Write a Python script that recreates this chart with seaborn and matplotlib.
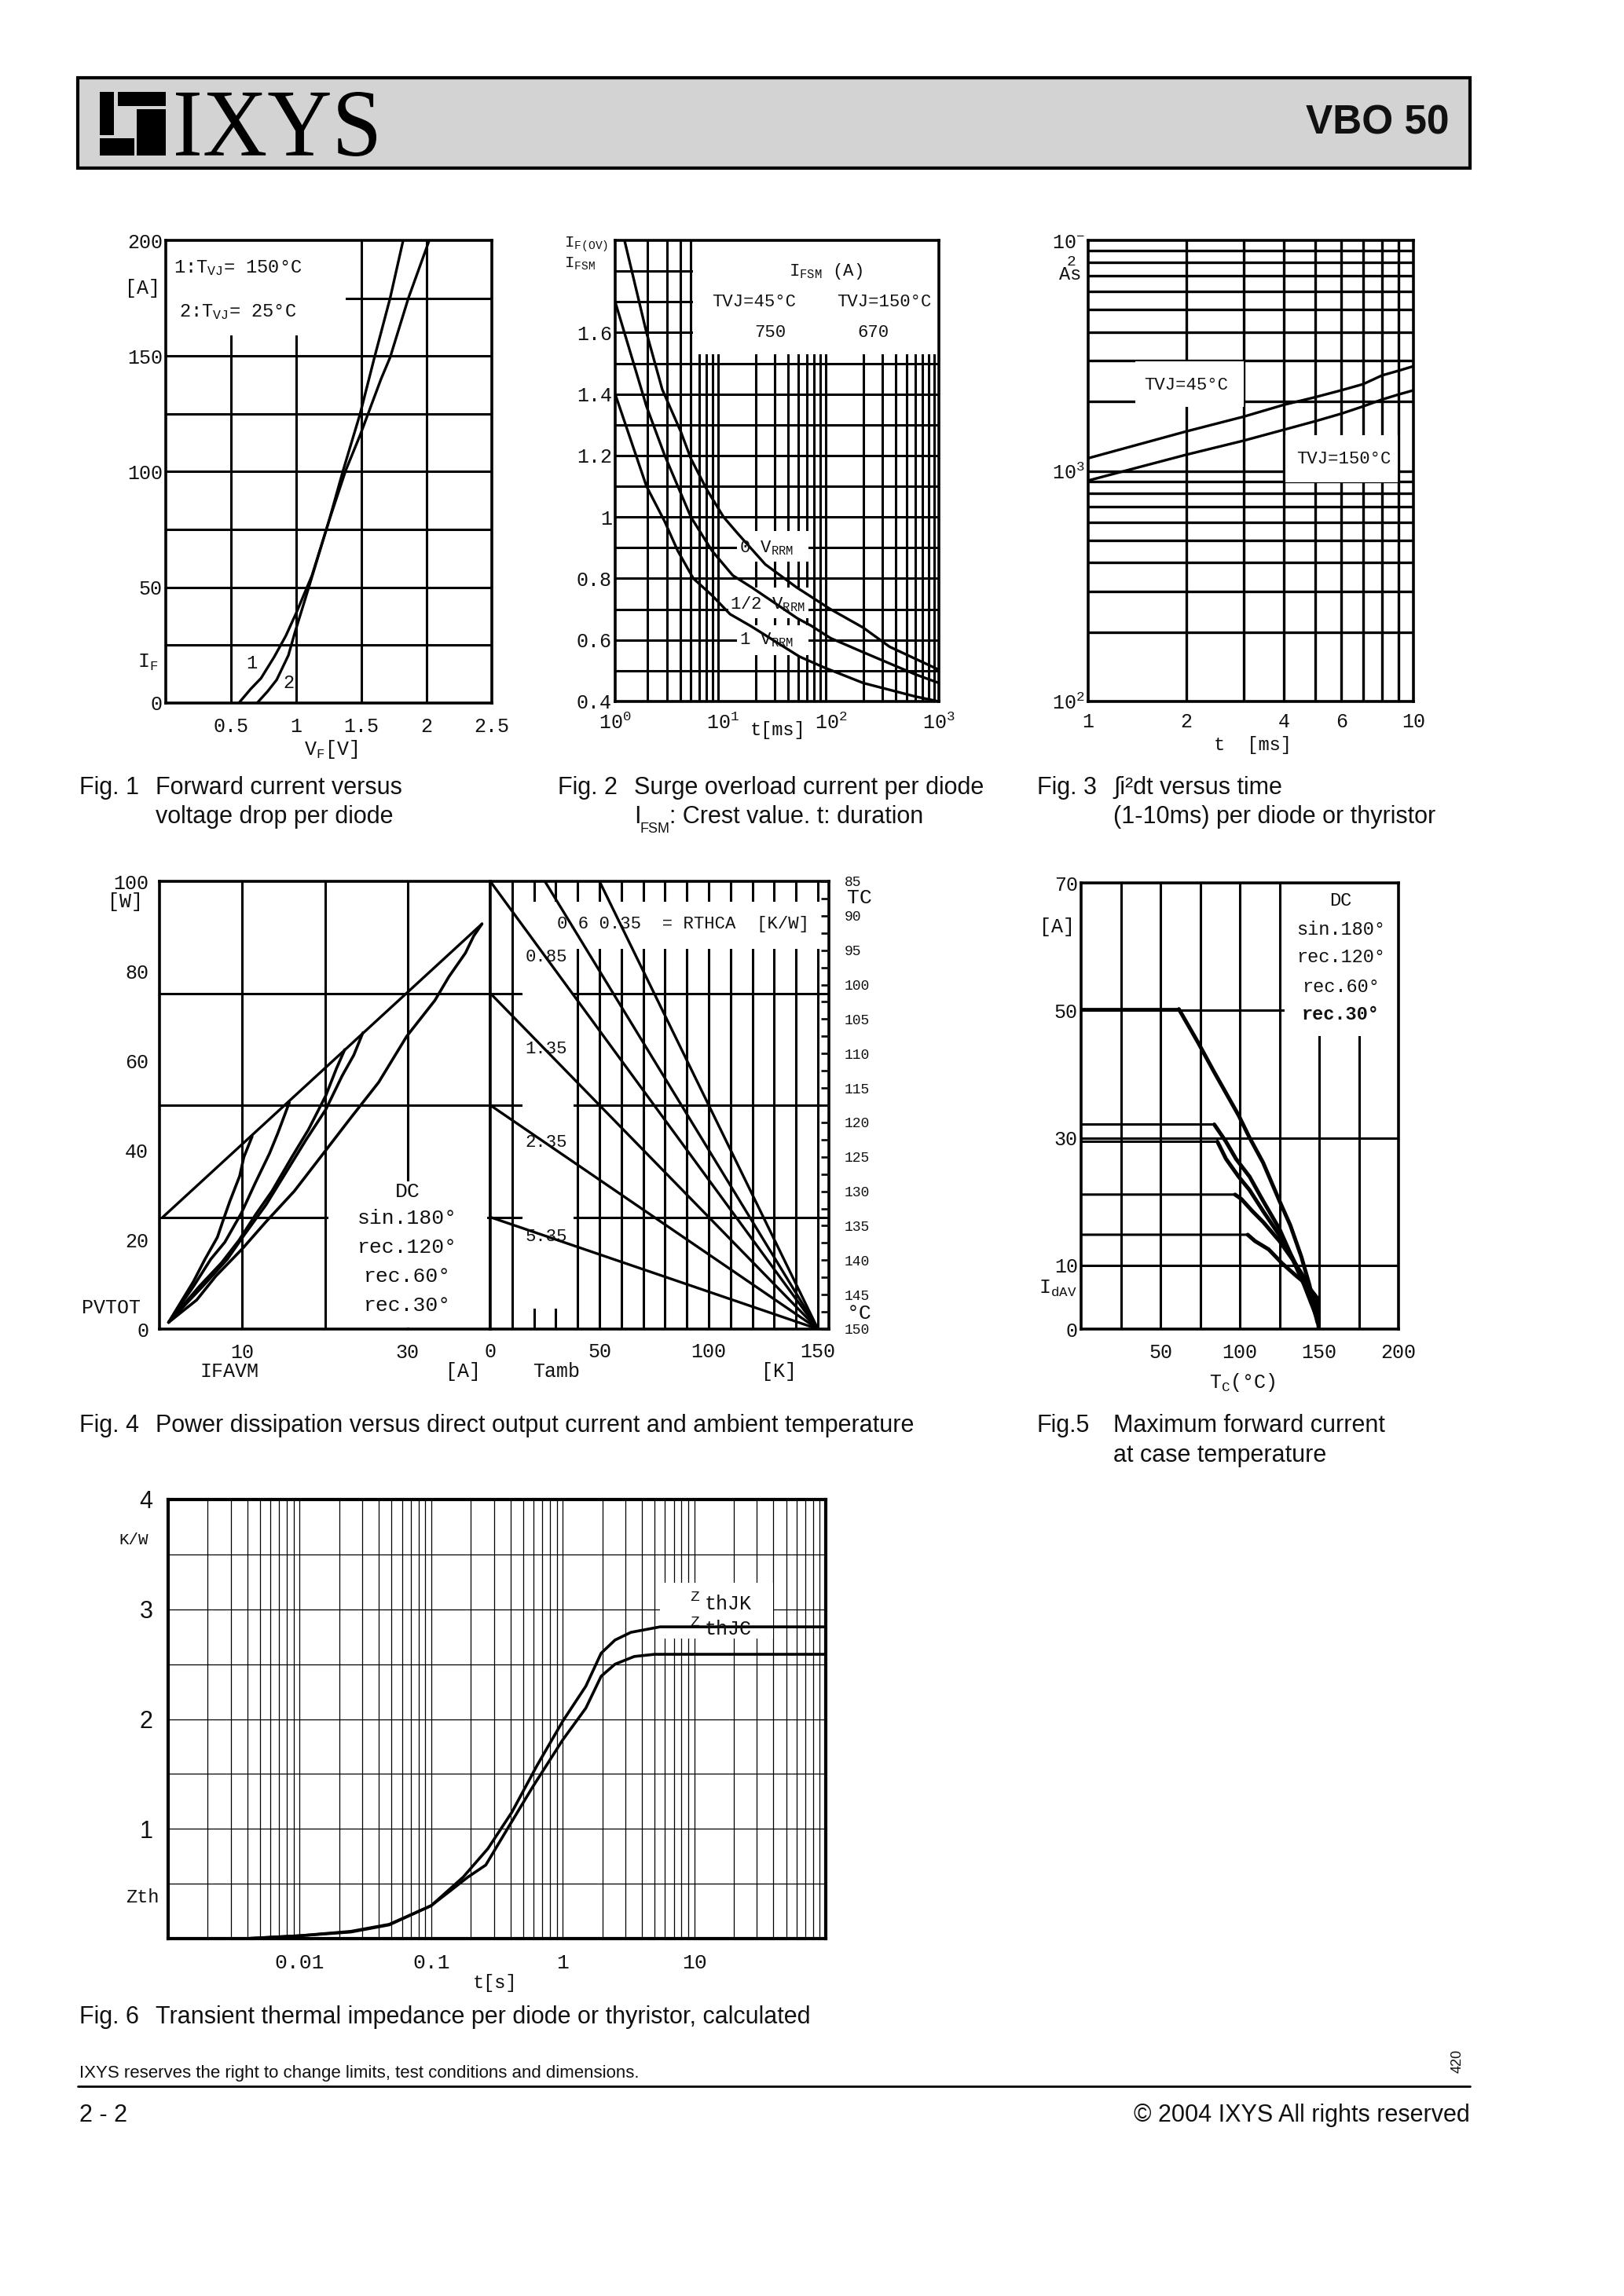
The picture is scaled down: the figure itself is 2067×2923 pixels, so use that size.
import matplotlib
matplotlib.use("Agg")
import matplotlib.pyplot as plt
import seaborn as sns
import numpy as np
from matplotlib.patches import Rectangle, PathPatch
from matplotlib.textpath import TextPath
from matplotlib.font_manager import FontProperties
from matplotlib.transforms import Affine2D
from matplotlib.lines import Line2D
from matplotlib.ticker import FixedLocator

# ---------------- data ----------------
# Fig 1: forward current vs voltage drop
vf_150 = [0.56, 0.65, 0.73, 0.83, 0.92, 1.00, 1.12, 1.25, 1.36, 1.49, 1.60, 1.72, 1.82]
if_150 = [0, 6, 10.7, 19.8, 29, 38.9, 55, 78.5, 100.6, 125, 149.4, 175, 200]
vf_25 = [0.70, 0.78, 0.85, 0.94, 0.99, 1.09, 1.25, 1.38, 1.49, 1.65, 1.72, 1.86, 2.02]
if_25 = [0, 5, 10, 20.6, 30.5, 48.8, 78.5, 100.6, 115.8, 140, 149.4, 175, 200]

# Fig 2: surge overload current ratio vs time
t_0v = [1.22, 1.95, 2.73, 4.03, 5.03, 7.05, 10.1, 13.7, 24.6, 48, 99, 199, 349, 1000]
r_0v = [1.90, 1.60, 1.415, 1.28, 1.19, 1.09, 1.0, 0.946, 0.846, 0.771, 0.70, 0.64, 0.578, 0.503]
t_half = [1.0, 1.95, 2.88, 5.03, 7.9, 12.3, 18.6, 49, 65, 99, 199, 606, 1000]
r_half = [1.70, 1.36, 1.20, 1.00, 0.89, 0.81, 0.77, 0.67, 0.647, 0.606, 0.56, 0.488, 0.46]
t_1v = [1.0, 1.95, 2.88, 3.8, 5.3, 7.9, 11.6, 18.1, 51, 87, 199, 606, 1000]
r_1v = [1.40, 1.10, 0.985, 0.89, 0.80, 0.745, 0.684, 0.645, 0.546, 0.51, 0.46, 0.416, 0.40]
ifsm_45, ifsm_150 = "750", "670"

# Fig 3: i2t vs time
t_i2t = [1, 2, 3, 4, 5, 6, 7, 8, 9, 10]
i2t_45 = [1135, 1483, 1718, 1936, 2090, 2237, 2378, 2595, 2720, 2845]
i2t_150 = [908, 1175, 1352, 1509, 1644, 1771, 1905, 2039, 2145, 2237]

# Fig 4 (left): power dissipation vs average current
pv_modes = ["DC", "sin.180°", "rec.120°", "rec.60°", "rec.30°"]
i_dc = [1.1, 4.5, 6.8, 10, 12.9, 16.3, 20.1, 23.1, 26.5, 29.9, 33.3, 35.0, 37.0, 38.0, 39.0]
p_dc = [1.5, 6.5, 11.8, 17.9, 24, 30.8, 39.9, 47.1, 55.1, 65.4, 73.4, 78.7, 84, 87.8, 90.5]
i_sin = [1.1, 5.2, 8.2, 10.2, 12.9, 15.3, 17.7, 20.1, 22.1, 23.5, 24.6]
p_sin = [1.5, 9.5, 15.6, 20.9, 27.8, 35, 42.2, 49, 56.6, 61.2, 66.2]
i_r120 = [1.1, 4.8, 7.5, 9.6, 11.6, 13.6, 16.0, 18.0, 20.1, 21.4, 22.4]
p_r120 = [1.5, 9.5, 14.8, 19.8, 25.5, 30.8, 38.4, 44.5, 52.1, 58.2, 62.4]
i_r60 = [1.1, 4.1, 6.2, 7.9, 9.9, 11.6, 13.3, 14.3, 15.7]
p_r60 = [1.5, 9.5, 15.6, 19.4, 25.9, 32.7, 39.2, 43.7, 50.6]
i_r30 = [1.1, 4.1, 5.5, 7.0, 7.7, 8.5, 9.7, 10.2, 11.2]
p_r30 = [1.5, 10.6, 15.6, 20.5, 24.3, 28.5, 34.2, 38.4, 43]
i_env = [0.4, 39.0]
p_env = [25.0, 90.5]

# Fig 4 (right): ambient temperature lines per Rthca
rth_values = ["0.35", "0.6", "0.85", "1.35", "2.35", "5.35"]
rth_t_start = [50, 25, 0, 0, 0, 0]
rth_p_start = [100, 100, 100, 75, 50, 25]
rth_t_end = 150
tc_ticks = [85, 90, 95, 100, 105, 110, 115, 120, 125, 130, 135, 140, 145, 150]

# Fig 5: max forward current vs case temperature
tc_dc = [0, 61.6, 73.6, 83.9, 99.3, 106.2, 114.7, 125, 131.8, 138.7, 143.8, 149, 149.8]
id_dc = [50.2, 50.2, 45, 40.3, 33.5, 30, 26.1, 20.1, 16.3, 11.4, 7, 1.5, 0]
tc_sin = [0, 83.9, 91.3, 97.6, 106.2, 114.7, 125, 131.8, 140.4, 145.5, 149]
id_sin = [32.1, 32.1, 29.4, 26.7, 23.9, 20.1, 15.7, 11.9, 7.5, 4.3, 1]
tc_r120 = [0, 85.9, 91.3, 99.3, 106.2, 114.7, 125, 133.6, 140.4, 149]
id_r120 = [29.4, 29.4, 26.7, 23.9, 21.8, 18.5, 14.7, 10.8, 7, 1.5]
tc_r60 = [0, 97, 101, 107.9, 114.7, 125, 133.6, 142.1, 149, 149.8]
id_r60 = [21.1, 21.1, 20.4, 18.5, 16.8, 13.8, 10.8, 7.5, 3.2, 1]
tc_r30 = [0, 105, 109.6, 118.2, 126.7, 135.3, 142.1, 149, 149.8]
id_r30 = [14.8, 14.8, 13.8, 12.5, 10.3, 8.4, 7, 4.8, 1.5]

# Fig 6: transient thermal impedance
t_jk = [0.0039, 0.01, 0.0245, 0.048, 0.1, 0.175, 0.27, 0.41, 0.64, 1.0, 1.5, 1.96, 2.5, 3.3, 5.5, 100]
z_jk = [0, 0.026, 0.066, 0.13, 0.30, 0.56, 0.82, 1.15, 1.58, 1.98, 2.30, 2.60, 2.72, 2.79, 2.84, 2.84]
t_jc = [0.0039, 0.01, 0.0245, 0.048, 0.1, 0.19, 0.26, 0.38, 0.59, 1.0, 1.5, 1.96, 2.5, 3.5, 5, 100]
z_jc = [0, 0.026, 0.06, 0.125, 0.30, 0.56, 0.67, 1.0, 1.38, 1.81, 2.1, 2.39, 2.50, 2.57, 2.59, 2.59]

# ---------------- style ----------------
sns.set_theme(style="white")
MONO = ["Liberation Mono", "DejaVu Sans Mono"]
SANS = ["Liberation Sans", "DejaVu Sans"]
plt.rcParams["font.family"] = MONO
plt.rcParams["mathtext.fontset"] = "custom"
plt.rcParams["mathtext.rm"] = "Liberation Mono"
plt.rcParams["mathtext.it"] = "Liberation Mono"
plt.rcParams["mathtext.bf"] = "Liberation Mono:bold"
plt.rcParams["mathtext.default"] = "rm"
INK = "#111111"

W, H = 2067, 2923
fig = plt.figure(figsize=(W / 100, H / 100), dpi=100)
fig.patch.set_facecolor("white")


def add_ax(x0, y0, x1, y1):
    return fig.add_axes([x0 / W, 1 - y1 / H, (x1 - x0) / W, (y1 - y0) / H])


def ftext(x, y, s, size=18, ha="left", va="center", family=None, **kw):
    fig.text(x / W, 1 - y / H, s, fontsize=size, ha=ha, va=va,
             family=family or MONO, color=INK, **kw)


def frame(ax, lw=2.6, labelsize=18):
    ax.set_facecolor("white")
    ax.grid(False)
    for sp in ax.spines.values():
        sp.set_visible(True)
        sp.set_color("black")
        sp.set_linewidth(lw)
        sp.set_zorder(5)
    ax.tick_params(length=0, labelsize=labelsize, colors=INK)
    ax.set_xlabel("")
    ax.set_ylabel("")


def grid(ax, xs=(), ys=(), lw=2.2):
    for v in xs:
        ax.axvline(v, color="black", lw=lw, zorder=1)
    for v in ys:
        ax.axhline(v, color="black", lw=lw, zorder=1)


def blank(ax, x0, y0, x1, y1):
    ax.add_patch(Rectangle((x0, y0), x1 - x0, y1 - y0, facecolor="white",
                           edgecolor="none", zorder=1.5))


def curve(ax, x, y, lw=2.4):
    sns.lineplot(x=x, y=y, ax=ax, color="black", linewidth=lw, sort=False,
                 estimator=None, legend=False, zorder=3)


# ---------------- header ----------------
axh = add_ax(99, 99, 1871, 214)
axh.set_xlim(99, 1871)
axh.set_ylim(214, 99)
axh.axis("off")
axh.add_patch(Rectangle((99, 99), 1772, 115, facecolor="#d3d3d3",
                        edgecolor="black", lw=3, clip_on=False))
ix0, iy0, iw, ih = 127, 117, 84, 81
for fx0, fy0, fx1, fy1 in [(0, 0, 0.22, 0.68), (0.27, 0, 1.0, 0.22),
                           (0.56, 0.27, 1.0, 1.0), (0, 0.73, 0.52, 1.0)]:
    axh.add_patch(Rectangle((ix0 + fx0 * iw, iy0 + fy0 * ih), (fx1 - fx0) * iw,
                            (fy1 - fy0) * ih, facecolor="black", edgecolor="none"))
tp = TextPath((0, 0), "IXYS", size=100, prop=FontProperties(family="Liberation Serif"))
bb = tp.get_extents()
tr = Affine2D().translate(-bb.x0, -bb.y0).scale(255 / bb.width, -82 / bb.height).translate(224, 199)
axh.add_patch(PathPatch(tr.transform_path(tp), facecolor="black", edgecolor="none"))
ftext(1845, 157, "VBO 50", size=37, ha="right", family=SANS, weight="bold")

# ---------------- Fig 1 ----------------
ax1 = add_ax(211, 306, 626, 895)
frame(ax1)
grid(ax1, xs=[0.5, 1, 1.5, 2], ys=[25, 50, 75, 100, 125, 150, 175])
blank(ax1, 0.0, 159, 1.38, 200)
curve(ax1, vf_150, if_150)
curve(ax1, vf_25, if_25)
ax1.set_xlim(0, 2.5)
ax1.set_ylim(0, 200)
ax1.set_xticks([0.5, 1, 1.5, 2, 2.5])
ax1.set_xticklabels(["0.5", "1", "1.5", "2", "2.5"])
ax1.set_yticks([0, 50, 100, 150, 200])
ax1.tick_params(axis="x", pad=13)
ax1.tick_params(axis="y", pad=3)
ax1.text(0.06, 188, "1:T$_{VJ}$= 150°C", fontsize=17, va="center", color=INK, zorder=4)
ax1.text(0.10, 169, "2:T$_{VJ}$= 25°C", fontsize=17, va="center", color=INK, zorder=4)
ax1.text(0.66, 17, "1", fontsize=17, ha="center", va="center", color=INK)
ax1.text(0.94, 8.5, "2", fontsize=17, ha="center", va="center", color=INK)
ftext(181, 367, "[A]", ha="center")
ftext(188, 843, "I$_F$", ha="center")
ftext(421, 954, "V$_F$[V]", ha="center")

# ---------------- Fig 2 ----------------
ax2 = add_ax(783, 306, 1195, 893)
frame(ax2)
ax2.set_xscale("log")
grid(ax2, xs=[k * 10 ** d for d in range(3) for k in range(2, 10)],
     ys=[0.5, 0.6, 0.7, 0.8, 0.9, 1.0, 1.1, 1.2, 1.3, 1.4, 1.5, 1.6, 1.7, 1.8])
blank(ax2, 5.3, 1.53, 1000, 1.9)
blank(ax2, 13.5, 0.855, 62, 0.955)
blank(ax2, 11.2, 0.67, 62, 0.77)
blank(ax2, 13.5, 0.55, 62, 0.648)
curve(ax2, t_0v, r_0v)
curve(ax2, t_half, r_half)
curve(ax2, t_1v, r_1v)
ax2.set_xlim(1, 1000)
ax2.set_ylim(0.4, 1.9)
ax2.set_xticks([1, 10, 100, 1000])
ax2.set_xticklabels(["$10^{0}$", "$10^{1}$", "$10^{2}$", "$10^{3}$"])
ax2.minorticks_off()
ax2.set_yticks([0.4, 0.6, 0.8, 1.0, 1.2, 1.4, 1.6])
ax2.set_yticklabels(["0.4", "0.6", "0.8", "1", "1.2", "1.4", "1.6"])
ax2.tick_params(axis="x", pad=10)
ax2.tick_params(axis="y", pad=3)
for x, y, s in [(90, 1.80, "I$_{FSM}$ (A)"), (19.2, 1.70, "TVJ=45°C"), (312, 1.70, "TVJ=150°C"),
                (27.3, 1.60, ifsm_45), (245, 1.60, ifsm_150)]:
    ax2.text(x, y, s, fontsize=16, ha="center", va="center", color=INK, zorder=4)
for x, y, s in [(14.1, 0.90, "0 V$_{RRM}$"), (11.6, 0.717, "1/2 V$_{RRM}$"), (14.1, 0.60, "1 V$_{RRM}$")]:
    ax2.text(x, y, s, fontsize=16, ha="left", va="center", color=INK, zorder=4)
ftext(718, 311, "I$_{F(OV)}$", size=15)
ftext(718, 336, "I$_{FSM}$", size=15)
ftext(990, 930, "t[ms]", ha="center", size=17)

# ---------------- Fig 3 ----------------
ax3 = add_ax(1385, 306, 1799, 893)
frame(ax3)
ax3.set_xscale("log")
ax3.set_yscale("log")
grid(ax3, xs=range(2, 10),
     ys=[k * 100 for k in range(2, 10)] + [1000] + [k * 1000 for k in range(2, 10)], lw=2.4)
blank(ax3, 1.4, 1900, 3.0, 2990)
blank(ax3, 4.03, 893, 8.95, 1432)
curve(ax3, t_i2t, i2t_45)
curve(ax3, t_i2t, i2t_150)
ax3.set_xlim(1, 10)
ax3.set_ylim(100, 10000)
ax3.set_xticks([1, 2, 4, 6, 10])
ax3.set_xticklabels(["1", "2", "4", "6", "10"])
ax3.set_yticks([100, 1000, 10000])
ax3.set_yticklabels(["$10^{2}$", "$10^{3}$", "$10^{-}$"])
ax3.minorticks_off()
ax3.tick_params(axis="x", pad=10)
ax3.tick_params(axis="y", pad=3)
ax3.text(2.0, 2355, "TVJ=45°C", fontsize=16, ha="center", va="center", color=INK, zorder=4)
ax3.text(6.1, 1128, "TVJ=150°C", fontsize=16, ha="center", va="center", color=INK, zorder=4)
ftext(1348, 349, "As", size=17)
ftext(1358, 334, "2", size=14)
ftext(1594, 949, "t  [ms]", ha="center", size=17)

# ---------------- Fig 4 ----------------
ax4l = add_ax(203, 1122, 624, 1692)
ax4r = add_ax(624, 1122, 1055, 1692)
frame(ax4l)
frame(ax4r)
grid(ax4l, xs=[10, 20, 30], ys=[25, 50, 75])
grid(ax4r, xs=range(10, 151, 10), ys=[25, 50, 75])
blank(ax4l, 20.4, 0.4, 39.6, 33)
blank(ax4r, 14.8, 4.6, 38.1, 95.4)
blank(ax4r, 38.1, 85, 152, 95.4)
curve(ax4l, i_env, p_env)
for xs, ys in [(i_dc, p_dc), (i_sin, p_sin), (i_r120, p_r120), (i_r60, p_r60), (i_r30, p_r30)]:
    curve(ax4l, xs, ys, lw=2.6)
for t0, p0 in zip(rth_t_start, rth_p_start):
    curve(ax4r, [t0, rth_t_end], [p0, 0])
ax4l.set_xlim(0, 40)
ax4l.set_ylim(0, 100)
ax4r.set_xlim(0, 155)
ax4r.set_ylim(0, 100)
ax4l.set_xticks([10, 30])
ax4l.set_yticks([0, 20, 40, 60, 80, 100])
ax4l.yaxis.set_minor_locator(FixedLocator([v for v in range(4, 100, 4) if v % 20]))
ax4l.tick_params(axis="y", which="both", direction="in", length=7, width=2, pad=10)
ax4l.tick_params(axis="x", pad=13)
ax4r.set_xticks([0, 50, 100, 150])
ax4r.set_yticks([])
ax4r.tick_params(axis="x", pad=12)
tw = ax4r.twinx()
tw.set_ylim(150, 85)
tw.set_yticks(tc_ticks)
tw.yaxis.set_minor_locator(FixedLocator([v + 2.5 for v in tc_ticks[:-1]]))
tw.tick_params(axis="y", which="both", direction="in", length=7, width=2,
               labelsize=13, pad=14, colors=INK)
for sp in tw.spines.values():
    sp.set_visible(False)
for y, s in zip([30.7, 24.8, 18.3, 11.8, 5.2], pv_modes):
    ax4l.text(30, y, s, fontsize=19, ha="center", va="center", color=INK, zorder=4)
for y, s in zip([83, 62.5, 41.6, 20.6], rth_values[2:]):
    ax4r.text(25.6, y, s, fontsize=16, ha="center", va="center", color=INK, zorder=4)
ax4r.text(30.7, 90.5, f"{rth_values[1]} {rth_values[0]}  = RTHCA  [K/W]", fontsize=16,
          ha="left", va="center", color=INK, zorder=4)
ftext(160, 1148, "[W]", ha="center")
ftext(141, 1665, "PVTOT", ha="center")
ftext(292, 1746, "IFAVM", ha="center")
ftext(589, 1746, "[A]", ha="center")
ftext(708, 1746, "Tamb", ha="center")
ftext(992, 1746, "[K]", ha="center")
ftext(1094, 1143, "TC", ha="center", size=19)
ftext(1094, 1672, "°C", ha="center", size=19)

# ---------------- Fig 5 ----------------
ax5 = add_ax(1376, 1124, 1780, 1692)
frame(ax5)
grid(ax5, xs=[25, 50, 75, 100, 125, 150, 175], ys=[10, 30, 50])
blank(ax5, 128.4, 46, 200, 70)
for xs, ys in [(tc_dc, id_dc), (tc_sin, id_sin), (tc_r120, id_r120), (tc_r60, id_r60), (tc_r30, id_r30)]:
    curve(ax5, xs, ys, lw=2.2)
    curve(ax5, xs[1:], ys[1:], lw=3.6)
ax5.set_xlim(0, 200)
ax5.set_ylim(0, 70)
ax5.set_xticks([50, 100, 150, 200])
ax5.set_yticks([0, 10, 30, 50, 70])
ax5.tick_params(axis="x", pad=13)
ax5.tick_params(axis="y", pad=3)
for y, s in zip([67.2, 62.7, 58.4, 53.7, 49.3], pv_modes):
    ax5.text(163.5, y, s, fontsize=17, ha="center", va="center", color=INK, zorder=4,
             weight="bold" if s == "rec.30°" else "normal")
ftext(1346, 1180, "[A]", ha="center")
ftext(1346, 1640, "I$_{dAV}$", ha="center")
ftext(1581, 1760, "T$_C$(°C)", ha="center")

# ---------------- Fig 6 ----------------
ax6 = add_ax(214, 1909, 1051, 2468)
frame(ax6, lw=3)
ax6.set_xscale("log")
grid(ax6, xs=[k * 10.0 ** d for d in range(-3, 2) for k in range(1, 10) if not (d == -3 and k == 1)],
     ys=[0.5, 1, 1.5, 2, 2.5, 3, 3.5], lw=0.9)
blank(ax6, 5.5, 2.73, 40, 3.24)
curve(ax6, t_jk, z_jk, lw=2.6)
curve(ax6, t_jc, z_jc, lw=2.6)
ax6.set_xlim(0.001, 100)
ax6.set_ylim(0, 4)
ax6.set_xticks([0.01, 0.1, 1, 10])
ax6.set_xticklabels(["0.01", "0.1", "1", "10"])
ax6.minorticks_off()
ax6.set_yticks([1, 2, 3, 4])
ax6.set_yticklabels(["1", "2", "3", "4"])
ax6.tick_params(axis="x", labelsize=19, pad=14)
ax6.tick_params(axis="y", labelsize=22, pad=14)
for lbl in ax6.get_yticklabels():
    lbl.set_fontfamily(SANS)
for y, s in [(3.07, "thJK"), (2.84, "thJC")]:
    ax6.text(9.3, y + 0.04, "Z", fontsize=14, ha="left", va="center", color=INK, zorder=4)
    ax6.text(12.0, y - 0.02, s, fontsize=18, ha="left", va="center", color=INK, zorder=4)
ftext(170, 1961, "K/W", ha="center", size=15)
ftext(181, 2416, "Zth", ha="center", size=17)
ftext(630, 2524, "t[s]", ha="center", size=17)

# ---------------- captions and footer ----------------
cap = dict(size=22, family=SANS)
ftext(101, 1003, "Fig. 1", **cap)
ftext(198, 1003, "Forward current versus", **cap)
ftext(198, 1040, "voltage drop per diode", **cap)
ftext(710, 1003, "Fig. 2", **cap)
ftext(807, 1003, "Surge overload current per diode", **cap)
ftext(807, 1040, "I", **cap)
ftext(815, 1055, "FSM", size=13, family=SANS)
ftext(852, 1040, ": Crest value. t: duration", **cap)
ftext(1320, 1003, "Fig. 3", **cap)
ftext(1417, 1003, "∫i²dt versus time", **cap)
ftext(1417, 1040, "(1-10ms) per diode or thyristor", **cap)
ftext(101, 1815, "Fig. 4", **cap)
ftext(198, 1815, "Power dissipation versus direct output current and ambient temperature", **cap)
ftext(1320, 1815, "Fig.5", **cap)
ftext(1417, 1815, "Maximum forward current", **cap)
ftext(1417, 1853, "at case temperature", **cap)
ftext(101, 2568, "Fig. 6", **cap)
ftext(198, 2568, "Transient thermal impedance per diode or thyristor, calculated", **cap)
ftext(101, 2639, "IXYS reserves the right to change limits, test conditions and dimensions.",
      size=16, family=SANS)
ftext(1855, 2624, "420", size=13, family=SANS, ha="center", rotation=90)
fig.add_artist(Line2D([99 / W, 1871 / W], [1 - 2656 / H, 1 - 2656 / H], color="black", lw=2))
ftext(101, 2693, "2 - 2", **cap)
ftext(1871, 2693, "© 2004 IXYS All rights reserved", ha="right", **cap)

fig.savefig("out.png", dpi=100, facecolor="white")
